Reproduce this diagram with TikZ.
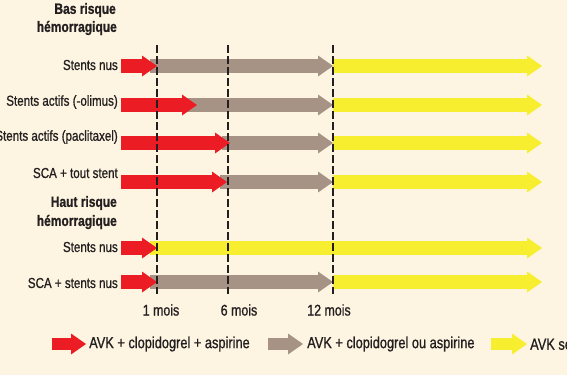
\documentclass[tikz,border=0pt]{standalone}
\usepackage{fontspec}
\setmainfont{Liberation Sans}[FakeStretch=0.8,FakeBold=0.9]
\usetikzlibrary{arrows.meta}
\definecolor{creme}{HTML}{FDF5E1}
\definecolor{rouge}{HTML}{EC1C24}
\definecolor{taupe}{HTML}{A69386}
\definecolor{jaune}{HTML}{F6EE2F}
\definecolor{noir}{HTML}{231F20}

\begin{document}
\begin{tikzpicture}[x=1pt,y=-1pt,
	fleche/.style={line width=14pt,-{Triangle[width=21pt,length=15pt,line width=0pt]}},
	legfleche/.style={line width=12pt,-{Triangle[width=21pt,length=15pt,line width=0pt]}},
	etiq/.style={anchor=east,inner sep=0pt,text=noir,font=\fontsize{14.5}{16}\selectfont},
	titre/.style={anchor=east,inner sep=0pt,text=noir,font=\bfseries\fontsize{15}{17}\selectfont},
	mois/.style={inner sep=0pt,text=noir,font=\fontsize{15.5}{17}\selectfont},
	leg/.style={anchor=west,inner sep=0pt,text=noir,font=\fontsize{16}{18}\selectfont},
	repere/.style={noir,line width=2pt,dash pattern=on 7.5pt off 3.5pt}]
		\useasboundingbox (0,0) rectangle (567,375);
		\clip (0,0) rectangle (567,375);
		\fill[creme] (0,0) rectangle (567,375);
		% bas risque
		\node[titre] (bas1) at (116,10) {Bas risque};
		\node[titre] (bas2) at (117,28) {hémorragique};
		\node[etiq] (nus) at (118,65) {Stents nus};
		\node[etiq] (olimus) at (118,102) {Stents actifs (-olimus)};
		\node[etiq] (pacli) at (118,137) {Stents actifs (paclitaxel)};
		\node[etiq] (sca) at (118,173) {SCA + tout stent};
		\draw[fleche,jaune] (333,66) -- (542,66);
		\draw[fleche,taupe] (150,66) -- (333,66);
		\draw[fleche,rouge] (121,66) -- (157,66);
		\draw[fleche,jaune] (333,105) -- (542,105);
		\draw[fleche,taupe] (185,105) -- (333,105);
		\draw[fleche,rouge] (121,105) -- (197,105);
		\draw[fleche,jaune] (333,143) -- (542,143);
		\draw[fleche,taupe] (222,143) -- (333,143);
		\draw[fleche,rouge] (121,143) -- (230,143);
		\draw[fleche,jaune] (333,182) -- (542,182);
		\draw[fleche,taupe] (220,182) -- (333,182);
		\draw[fleche,rouge] (121,182) -- (227,182);
		% haut risque
		\node[titre] (haut1) at (117,203) {Haut risque};
		\node[titre] (haut2) at (117,222) {hémorragique};
		\node[etiq] (hnus) at (118,247) {Stents nus};
		\node[etiq] (hsca) at (118,283) {SCA + stents nus};
		\draw[fleche,jaune] (150,248) -- (542,248);
		\draw[fleche,rouge] (121,248) -- (157,248);
		\draw[fleche,jaune] (333,282) -- (542,282);
		\draw[fleche,taupe] (150,282) -- (333,282);
		\draw[fleche,rouge] (121,282) -- (157,282);
		% reperes
		\foreach \x in {157,228,333}
		\draw[repere] (\x,45) -- (\x,294);
		\node[mois] (mois1) at (161,310) {1 mois};
		\node[mois] (mois6) at (239,310) {6 mois};
		\node[mois] (mois12) at (329,310) {12 mois};
		% legende
		\draw[legfleche,rouge] (52,344) -- (86,344);
		\node[leg] (avk1) at (89,344) {AVK + clopidogrel + aspirine};
		\draw[legfleche,taupe] (268,344) -- (303,344);
		\node[leg] (avk2) at (307,344) {AVK + clopidogrel ou aspirine};
		\draw[legfleche,jaune] (491,344) -- (527,344);
		\node[leg] (avk3) at (530,344) {AVK seul};
\end{tikzpicture}
\end{document}
